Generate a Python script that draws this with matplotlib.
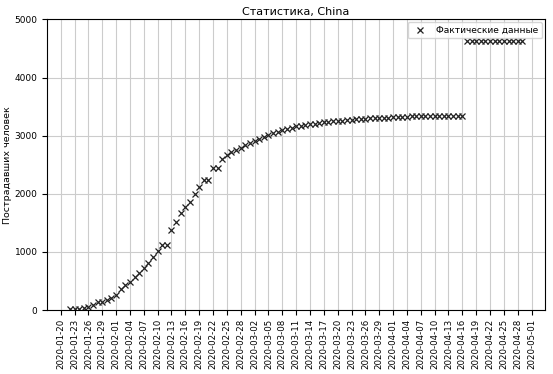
import datetime as dt

import matplotlib
matplotlib.use("Agg")
import matplotlib.pyplot as plt
import matplotlib.dates as mdates

# cumulative deaths in China, one value per day starting 2020-01-22
START = dt.date(2020, 1, 22)
deaths = [17, 18, 26, 42, 56, 82, 131, 133, 171, 213,
          259, 361, 425, 491, 563, 633, 718, 805, 905, 1012,
          1112, 1117, 1369, 1521, 1663, 1766, 1864, 2003, 2116, 2238,
          2238, 2443, 2445, 2595, 2665, 2717, 2746, 2790, 2837, 2872,
          2914, 2947, 2983, 3015, 3044, 3072, 3100, 3123, 3139, 3161,
          3172, 3180, 3193, 3203, 3217, 3230, 3241, 3249, 3253, 3259,
          3274, 3274, 3281, 3285, 3291, 3296, 3299, 3304, 3308, 3309,
          3316, 3322, 3326, 3330, 3333, 3335, 3335, 3337, 3339, 3339,
          3339, 3339, 3341, 3342, 3342, 3342, 4632, 4632, 4632, 4632,
          4632, 4632, 4632, 4632, 4633, 4633, 4633, 4633, 4633]
dates = [START + dt.timedelta(days=i) for i in range(len(deaths))]

# tick every 3 days, 2020-01-20 .. 2020-05-01
tick_dates = [dt.date(2020, 1, 20) + dt.timedelta(days=3 * i) for i in range(35)]

fig = plt.figure(figsize=(5.53, 3.74), dpi=100)
ax = fig.add_axes([0.0855, 0.171, 0.900, 0.777])

ax.plot(dates, deaths, "x", color="#222222", markersize=5, markeredgewidth=0.9,
        label="Фактические данные")
ax.set_ylim(0, 5000)
ax.set_xticks(tick_dates)
ax.xaxis.set_major_formatter(mdates.DateFormatter("%Y-%m-%d"))
ax.tick_params(axis="x", labelrotation=90, labelsize=6.2, pad=2.5)
ax.tick_params(axis="y", labelsize=6.5)
ax.set_ylabel("Пострадавших человек", fontsize=6.8, labelpad=2)
ax.set_title("Статистика, China", fontsize=8, pad=3)
ax.grid(True, color="#cccccc", linewidth=0.8)
ax.legend(loc="upper right", fontsize=6.5, borderaxespad=0.3)

fig.savefig("out.png", dpi=100)
